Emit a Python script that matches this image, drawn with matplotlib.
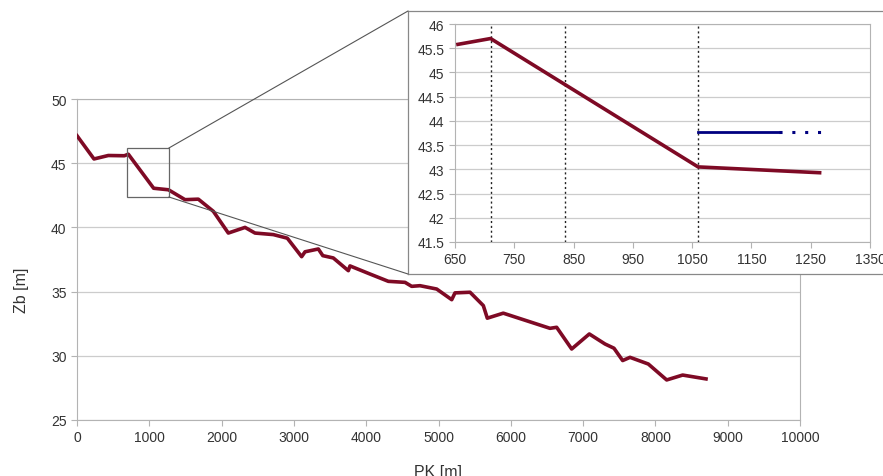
import numpy as np
import matplotlib
matplotlib.use("Agg")
from matplotlib import pyplot as plt
from matplotlib.patches import Rectangle, ConnectionPatch

plt.rcParams["font.family"] = ["Liberation Sans", "DejaVu Sans"]

# longitudinal profile: chainage PK [m] vs bed level Zb [m]
pk = [0, 235, 433, 655, 710, 1060, 1265, 1494, 1678, 1886, 2093, 2324, 2462,
      2715, 2909, 3107, 3154, 3338, 3400, 3545, 3753, 3776, 4052, 4306, 4537,
      4629, 4744, 4975, 5183, 5228, 5436, 5620, 5675, 5896, 6542, 6634, 6842,
      7086, 7303, 7427, 7547, 7649, 7902, 8156, 8377, 8700]
zb = [47.14, 45.33, 45.60, 45.58, 45.70, 43.05, 42.93, 42.16, 42.20, 41.25,
      39.56, 40.00, 39.56, 39.44, 39.16, 37.72, 38.10, 38.32, 37.80, 37.62,
      36.63, 37.00, 36.37, 35.80, 35.72, 35.41, 35.46, 35.20, 34.37, 34.90,
      34.95, 33.91, 32.93, 33.32, 32.14, 32.22, 30.53, 31.70, 30.92, 30.59,
      29.63, 29.88, 29.36, 28.12, 28.50, 28.20]

# zoomed section
zoom_x = [690, 1270]
zoom_y = [42.37, 46.18]
markers_pk = [710, 835, 1060]
level_pk = [1060, 1197]
level_dotted_pk = [1197, 1272]
level_z = 43.77

red = "#7e0a25"
blue = "#000080"
grid_c = "#cccccc"
spine_c = "#b3b3b3"
text_c = "#333333"

fig = plt.figure(figsize=(8.83, 4.77), dpi=100)

ax = fig.add_axes([77 / 883, 56 / 477, 723 / 883, 321 / 477])
ax.plot(pk, zb, color=red, lw=2.6, solid_joinstyle="round", zorder=3)
ax.set_xlim(0, 10000)
ax.set_ylim(25, 50)
ax.set_xticks(np.arange(0, 10001, 1000))
ax.set_yticks(np.arange(25, 51, 5))
ax.grid(axis="y", color=grid_c, lw=0.9)
for s in ax.spines.values():
    s.set_color(spine_c)
ax.tick_params(colors=spine_c, labelcolor=text_c, labelsize=10, length=4)
ax.set_xlabel("PK [m]", fontsize=11.5, color=text_c, labelpad=14)
ax.set_ylabel("Zb [m]", fontsize=11.5, color=text_c)
ax.yaxis.set_label_coords(-0.066, 0.408)

ax.add_patch(Rectangle((zoom_x[0], zoom_y[0]), zoom_x[1] - zoom_x[0],
                       zoom_y[1] - zoom_y[0], fill=False, ec="#666666",
                       lw=0.9, zorder=4))

# frame around the detail view (runs off the right edge)
frame = fig.add_axes([408 / 883, 202 / 477, 0.6, 263 / 477])
frame.set_xticks([])
frame.set_yticks([])
frame.set_facecolor("white")
for s in frame.spines.values():
    s.set_color("#888888")
    s.set_linewidth(0.9)

for yz, yf in [(zoom_y[1], 1), (zoom_y[0], 0)]:
    con = ConnectionPatch(xyA=(zoom_x[1], yz), coordsA=ax.transData,
                          xyB=(0, yf), coordsB=frame.transAxes,
                          color="#555555", lw=0.8)
    fig.add_artist(con)

ins = fig.add_axes([455 / 883, 234 / 477, 415 / 883, 218 / 477])
ins.plot(pk[3:7], zb[3:7], color=red, lw=2.6, zorder=3)
for m in markers_pk:
    ins.axvline(m, color="#222222", lw=1.0, ls=(0, (1.5, 2)), zorder=2)
ins.plot(level_pk, [level_z, level_z], color=blue, lw=2, zorder=3)
ins.plot(level_dotted_pk, [level_z, level_z], color=blue, lw=2.2,
         ls=(0, (1, 3.2)), zorder=3)
ins.set_xlim(650, 1350)
ins.set_ylim(41.5, 46)
ins.set_xticks(np.arange(650, 1351, 100))
ins.set_yticks(np.arange(41.5, 46.01, 0.5))
ins.set_yticklabels([("%g" % v) for v in np.arange(41.5, 46.01, 0.5)])
ins.grid(axis="y", color=grid_c, lw=0.9)
for s in ins.spines.values():
    s.set_color(spine_c)
ins.tick_params(colors=spine_c, labelcolor=text_c, labelsize=10, length=4)

plt.savefig("out.png", dpi=100)
